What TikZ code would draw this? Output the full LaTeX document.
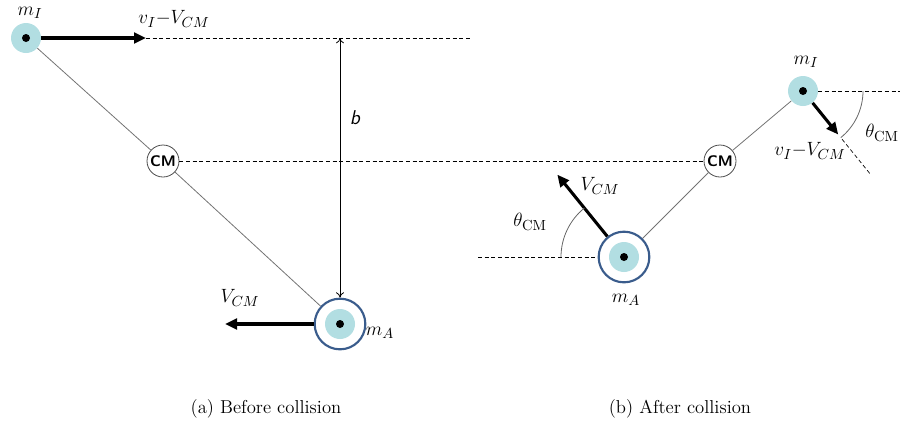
\documentclass[tikz,border=0pt]{standalone}
\usepackage{amsmath}
\usetikzlibrary{arrows.meta}
\definecolor{ionblue}{RGB}{178,222,226}
\definecolor{ringblue}{RGB}{58,92,140}
\tikzset{
  ion/.style={circle, fill=ionblue, minimum size=22.5pt, inner sep=0pt},
  dotn/.style={circle, fill=black, minimum size=6pt, inner sep=0pt},
  atom/.style={circle, draw=ringblue, line width=1.6pt, fill=white, minimum size=38pt, inner sep=0pt},
  cmnode/.style={circle, draw=black!70, line width=0.6pt, fill=white, minimum size=24pt, inner sep=0pt, font=\sffamily\bfseries\fontsize{11.5}{13}\selectfont},
  rod/.style={draw=black!55, line width=0.6pt},
  guide/.style={draw=black, line width=0.5pt, dash pattern=on 3pt off 2pt},
  vel/.style={draw=black, line width=2.3pt, -{Triangle[length=9pt,width=8pt]}},
  anglearc/.style={draw=black!60, line width=0.6pt},
  lbl/.style={font=\fontsize{15.5}{18}\selectfont, inner sep=1pt},
  captext/.style={font=\fontsize{14}{16}\selectfont}
}
\begin{document}
\begin{tikzpicture}[x=0.75pt,y=-0.75pt]
\useasboundingbox (0,0) rectangle (904,430);

% ---------- (a) before collision ----------
\node[ion] (i1) at (26,38) {};
\node[dotn] (i1d) at (i1) {};
\node[cmnode] (c1) at (163,161) {CM};
\node[atom] (a1) at (340,324) {};
\node[ion] (a1i) at (a1) {};
\node[dotn] (a1d) at (a1) {};

\draw[rod] (i1) -- (c1);
\draw[rod] (c1) -- (a1);

\coordinate (v1) at (146,38);
\coordinate (top1) at (472,38);
\coordinate (btop) at (340,38);
\coordinate (va1) at (225,324);

\draw[vel] (i1.east) -- (v1);
\draw[guide] (v1) -- (top1);
\draw[vel] (a1.west) -- (va1);
\draw[line width=0.6pt, {To[length=4pt,width=6pt]}-{To[length=4pt,width=6pt]}] (btop) -- (a1.north);

\node[lbl] (lm1) at (30,13) {$m_I$};
\node[lbl] (lv1) at (174,19) {$v_I{-}V_{CM}$};
\node[lbl, font=\fontsize{15}{17}\selectfont\sffamily\itshape] (lb) at (355,118) {b};
\node[lbl] (lvc1) at (240,298) {$V_{CM}$};
\node[lbl] (lma1) at (380,333) {$m_A$};
\node[captext] (capa) at (266,409) {(a) Before collision};

% ---------- (b) after collision ----------
\node[ion] (i2) at (803,91) {};
\node[dotn] (i2d) at (i2) {};
\node[cmnode] (c2) at (720,161) {CM};
\node[atom] (a2) at (624,257) {};
\node[ion] (a2i) at (a2) {};
\node[dotn] (a2d) at (a2) {};

\draw[rod] (i2) -- (c2);
\draw[rod] (c2) -- (a2);

\draw[guide] (c1.east) -- (c2.west);

\coordinate (r2) at (900,91);
\path (i2) ++(51:56) coordinate (v2tip);
\path (i2) ++(51:62) coordinate (g2a);
\path (i2) ++(51:108) coordinate (g2b);
\draw[guide] (i2.east) -- (r2);
\draw[vel] (i2.-51) -- (v2tip);
\draw[guide] (g2a) -- (g2b);
\draw[anglearc] (i2.center) ++(0:60) arc[start angle=0, end angle=51, radius=60];

\coordinate (l2) at (478,257);
\draw[guide] (l2) -- (a2.west);
\path (a2) ++(231:106) coordinate (va2tip);
\draw[vel] (a2.129) -- (va2tip);
\draw[anglearc] (a2.center) ++(180:63) arc[start angle=180, end angle=231, radius=63];

\node[lbl] (lm2) at (806,62) {$m_I$};
\node[lbl] (lv2) at (810,151) {$v_I{-}V_{CM}$};
\node[lbl] (lt2) at (882,133) {$\theta_{\mathrm{CM}}$};
\node[lbl] (lvc2) at (600,186) {$V_{CM}$};
\node[lbl] (lt3) at (530,222) {$\theta_{\mathrm{CM}}$};
\node[lbl] (lma2) at (626,300) {$m_A$};
\node[captext] (capb) at (680,409) {(b) After collision};
\end{tikzpicture}
\end{document}
